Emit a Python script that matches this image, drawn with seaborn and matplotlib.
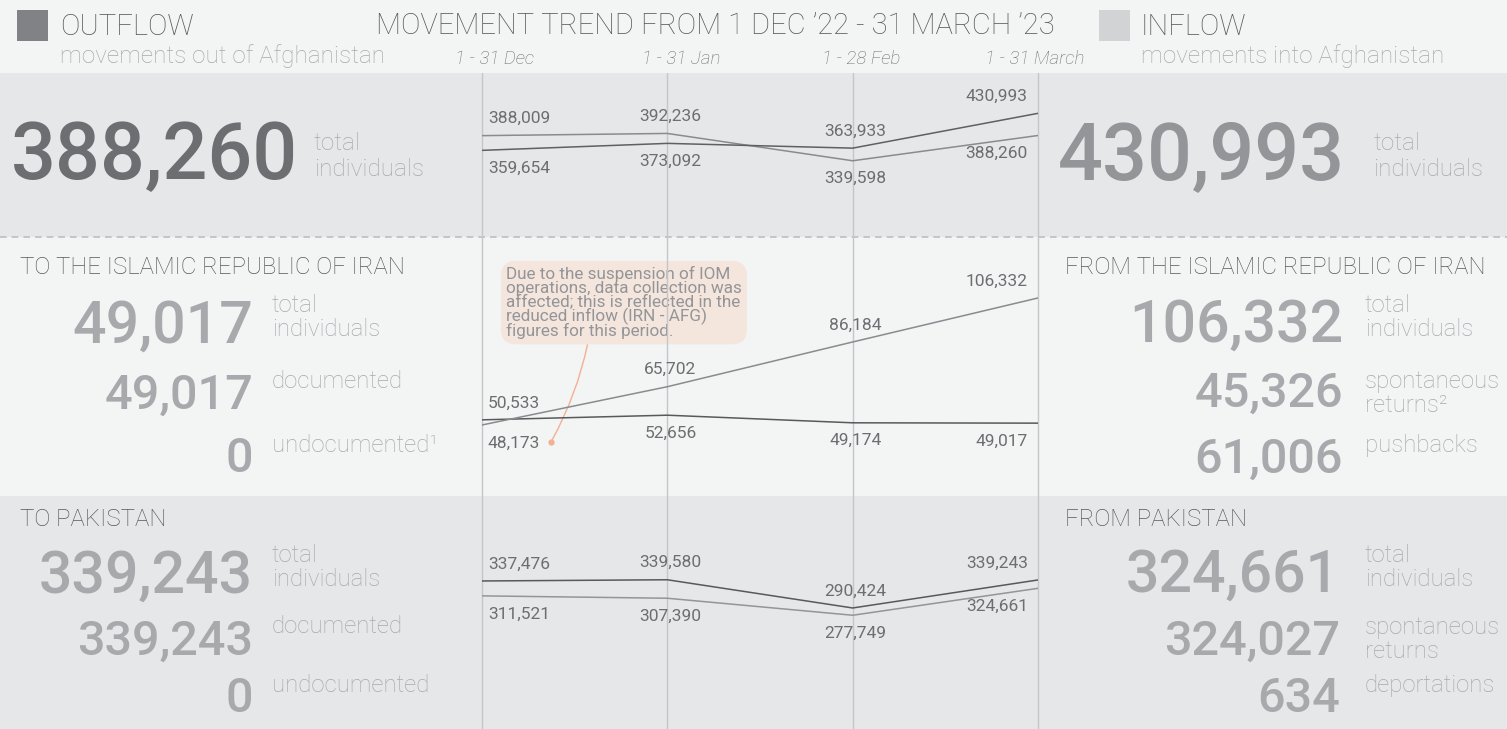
import matplotlib
matplotlib.use('Agg')
import matplotlib.pyplot as plt
import seaborn as sns
import pandas as pd
from matplotlib.patches import Rectangle

# ---- data ----
periods = ['1 - 31 Dec', '1 - 31 Jan', '1 - 28 Feb', '1 - 31 March']

total_out = [388009, 392236, 339598, 388260]
total_in = [359654, 373092, 363933, 430993]
iran_out = [50533, 52656, 49174, 49017]
iran_in = [48173, 65702, 86184, 106332]
pak_out = [337476, 339580, 290424, 339243]
pak_in = [311521, 307390, 277749, 324661]

outflow_total = 388260
inflow_total = 430993

iran_out_values = [49017, 49017, 0]
iran_out_labels = ['total\nindividuals', 'documented', 'undocumented\u00b9']
iran_in_values = [106332, 45326, 61006]
iran_in_labels = ['total\nindividuals', 'spontaneous\nreturns\u00b2', 'pushbacks']
pak_out_values = [339243, 339243, 0]
pak_out_labels = ['total\nindividuals', 'documented', 'undocumented']
pak_in_values = [324661, 324027, 634]
pak_in_labels = ['total\nindividuals', 'spontaneous\nreturns', 'deportations']

note = ('Due to the suspension of IOM\noperations, data collection was\n'
        'affected; this is reflected in the\nreduced inflow (IRN - AFG)\n'
        'figures for this period.')

# ---- style ----
sns.set_theme(style='white')
plt.rcParams['font.family'] = ['Roboto', 'DejaVu Sans']

LIGHT_BG = '#f3f4f4'
GREY_BG = '#e6e7e8'
DARK_TXT = '#58595b'
MID_TXT = '#6d6e71'
SOFT_TXT = '#a7a9ac'
VLINE = '#c4c6c8'

W, H = 1507, 729
fig = plt.figure(figsize=(W / 100, H / 100), dpi=100)
fig.patch.set_facecolor(LIGHT_BG)

bg = fig.add_axes([0, 0, 1, 1], zorder=0)
bg.set_xlim(0, W)
bg.set_ylim(H, 0)
bg.axis('off')

# bands
bg.add_patch(Rectangle((0, 73), W, 164, color=GREY_BG, lw=0))
bg.add_patch(Rectangle((0, 237), W, 259, color=LIGHT_BG, lw=0))
bg.add_patch(Rectangle((0, 496), W, 233, color=GREY_BG, lw=0))
bg.plot([0, W], [237, 237], ls=(0, (4, 3)), color='#bcbec0', lw=1.2)


def txt(x, y, s, size, color, ha='left', va='baseline', weight='light', **kw):
    bg.text(x, y, s, fontsize=size, color=color, ha=ha, va=va,
            fontweight=weight, **kw)


def stacked(x, y, s, size=17, color=SOFT_TXT, gap=25):
    for i, line in enumerate(s.split('\n')):
        txt(x, y + i * gap, line, size, color)


# header
bg.add_patch(Rectangle((17, 10), 31, 31, color='#808285', lw=0))
txt(60, 35, 'OUTFLOW', 21, DARK_TXT)
txt(60, 63, 'movements out of Afghanistan', 17.5, SOFT_TXT)
bg.add_patch(Rectangle((1099, 10), 31, 31, color='#d1d3d4', lw=0))
txt(1141, 35, 'INFLOW', 21, DARK_TXT)
txt(1141, 63, 'movements into Afghanistan', 17.5, SOFT_TXT)
txt(715, 34, 'MOVEMENT TREND FROM 1 DEC \u201922 - 31 MARCH \u201923', 21,
    DARK_TXT, ha='center')
for p, x in zip(periods, [495, 681, 861, 1035]):
    txt(x, 64, p, 13.5, MID_TXT, ha='center', style='italic')

# top totals
txt(298, 179, f'{outflow_total:,}', 57, MID_TXT, ha='right', weight='medium')
stacked(314, 150, 'total\nindividuals', 17.5, SOFT_TXT, gap=26)
txt(1345, 179, f'{inflow_total:,}', 57, '#939598', ha='right', weight='medium')
stacked(1373, 150, 'total\nindividuals', 17.5, SOFT_TXT, gap=26)

# section headings
txt(20, 274, 'TO THE ISLAMIC REPUBLIC OF IRAN', 17.3, DARK_TXT)
txt(1065, 274, 'FROM THE ISLAMIC REPUBLIC OF IRAN', 17.3, DARK_TXT)
txt(20, 526, 'TO PAKISTAN', 17.3, DARK_TXT)
txt(1065, 526, 'FROM PAKISTAN', 17.3, DARK_TXT)


def kpis(values, labels, num_x, lab_x, num_base, lab_base):
    sizes = [42.5, 35, 35]
    for v, lab, s, nb, lb in zip(values, labels, sizes, num_base, lab_base):
        txt(num_x, nb, f'{v:,}', s, SOFT_TXT, ha='right', weight='medium')
        stacked(lab_x, lb, lab, 17.3, SOFT_TXT, gap=24)


kpis(iran_out_values, iran_out_labels, 253, 272, [343, 409, 472], [312, 388, 452])
kpis(iran_in_values, iran_in_labels, 1343, 1365, [342, 407, 473], [312, 388, 452])
kpis(pak_out_values, pak_out_labels, 253, 272, [593, 655, 712], [562, 633, 692])
kpis(pak_in_values, pak_in_labels, 1340, 1365, [592, 655, 712], [562, 634, 692])

# ---- trend charts ----
x_left, x_right = 482, 1038


def chart(y_top, y_bot, ylim, out_vals, in_vals, out_col, in_col):
    ax = fig.add_axes([x_left / W, 1 - y_bot / H, (x_right - x_left) / W,
                       (y_bot - y_top) / H], zorder=2)
    ax.set_facecolor('none')
    df = pd.DataFrame({
        'pos': list(range(len(periods))) * 2,
        'value': out_vals + in_vals,
        'flow': ['outflow'] * len(periods) + ['inflow'] * len(periods),
    })
    sns.lineplot(data=df, x='pos', y='value', hue='flow',
                 palette={'outflow': out_col, 'inflow': in_col},
                 linewidth=1.1, legend=False, ax=ax)
    for i in range(len(periods)):
        ax.axvline(i, color=VLINE, lw=1, clip_on=False, zorder=0)
    ha = ['left', 'center', 'center', 'right']
    dx = [6, 3, 3, -10]
    for i, (o, n) in enumerate(zip(out_vals, in_vals)):
        hi, lo = max(o, n), min(o, n)
        for v, dy in ((hi, 17), (lo, -18)):
            ax.annotate(f'{v:,}', xy=(i, v), xytext=(dx[i], dy),
                        textcoords='offset pixels', ha=ha[i], va='center',
                        fontsize=12.5, color=MID_TXT, fontweight='normal')
    ax.set_xlim(0, len(periods) - 1)
    ax.set_ylim(*ylim)
    ax.axis('off')
    return ax


chart(73, 237, (192700, 508700), total_out, total_in, '#8a8b8e', '#5f6063')
chart(237, 496, (15660, 134250), iran_out, iran_in, '#58595b', '#8a8b8e')
chart(496, 729, (79600, 485500), pak_out, pak_in, '#58595b', '#939598')

# note on the Iran chart
bg.plot(551, 442, 'o', ms=3.5, color='#f4b093', zorder=5)
bg.annotate(note, xy=(551, 442), xytext=(506, 266), ha='left', va='top',
            fontsize=12.3, color='#939598', linespacing=0.88, zorder=6,
            bbox=dict(boxstyle='round,pad=0.3,rounding_size=0.9',
                      fc='#f5e4dc', ec='none', alpha=0.92),
            arrowprops=dict(arrowstyle='-', color='#f4b093', lw=1,
                            connectionstyle='arc3,rad=-0.08',
                            relpos=(0.35, 0), shrinkA=0, shrinkB=2))

fig.savefig('out.png', dpi=100, facecolor=fig.get_facecolor())
